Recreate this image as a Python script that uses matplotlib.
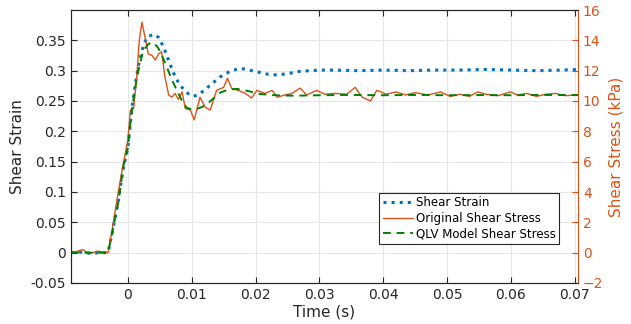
import matplotlib.pyplot as plt
import numpy as np

# shear strain (left axis)
t_strain = [-0.0089, -0.0075, -0.006, -0.0045, -0.0031, -0.0025, -0.0015, -0.0007, 0.0, 0.0006,
            0.0012, 0.0017, 0.0024, 0.003, 0.004, 0.0048, 0.0056, 0.0066, 0.0074, 0.0082,
            0.009, 0.0097, 0.0103, 0.011, 0.0119, 0.013, 0.0145, 0.016, 0.0176, 0.019,
            0.0207, 0.022, 0.0233, 0.025, 0.027, 0.0301, 0.032, 0.036, 0.04, 0.044,
            0.048, 0.052, 0.056, 0.06, 0.064, 0.068, 0.0705]
strain = [0.0, 0.001, -0.001, 0.0, 0.0, 0.03, 0.085, 0.140, 0.172, 0.235,
          0.28, 0.31, 0.34, 0.355, 0.36, 0.355, 0.339, 0.311, 0.29, 0.276,
          0.266, 0.26, 0.258, 0.26, 0.267, 0.277, 0.29, 0.299, 0.304, 0.301,
          0.297, 0.294, 0.293, 0.295, 0.299, 0.301, 0.301, 0.300, 0.301, 0.300,
          0.301, 0.301, 0.302, 0.301, 0.300, 0.301, 0.302]

# original shear stress (kPa, right axis)
t_orig = [-0.0089, -0.0082, -0.0075, -0.007, -0.0062, -0.0055, -0.0048, -0.004, -0.0031, -0.0025,
          -0.0015, -0.0007, 0.0, 0.0004, 0.0009, 0.0014, 0.0018, 0.0022, 0.0027, 0.0032,
          0.0038, 0.0043, 0.0048, 0.0053, 0.0058, 0.0064, 0.0069, 0.0074, 0.0079, 0.0085,
          0.009, 0.0098, 0.0104, 0.0109, 0.0113, 0.0121, 0.0129, 0.0139, 0.015, 0.0156,
          0.0163, 0.0173, 0.0184, 0.0194, 0.0202, 0.0215, 0.0226, 0.0234, 0.0246, 0.0257,
          0.027, 0.028, 0.0296, 0.0308, 0.0325, 0.0343, 0.0356, 0.0367, 0.038, 0.039,
          0.0405, 0.042, 0.0435, 0.045, 0.047, 0.049, 0.0505, 0.052, 0.0535, 0.0548,
          0.056, 0.058, 0.0599, 0.061, 0.0625, 0.064, 0.0655, 0.067, 0.0685, 0.0705]
stress_orig = [0.0, 0.05, 0.15, 0.2, -0.05, 0.0, 0.1, 0.05, 0.0, 1.4,
               4.0, 5.9, 7.4, 9.4, 9.5, 11.6, 14.0, 15.2, 14.2, 13.1,
               13.0, 12.7, 13.1, 13.25, 11.6, 10.4, 10.25, 10.5, 10.1, 10.6,
               9.5, 9.4, 8.75, 9.6, 10.25, 9.6, 9.4, 10.7, 10.9, 11.5,
               10.8, 10.7, 10.5, 10.2, 10.7, 10.5, 10.7, 10.25, 10.4, 10.5,
               10.85, 10.4, 10.7, 10.45, 10.5, 10.45, 10.9, 10.25, 10.0, 10.7,
               10.45, 10.6, 10.4, 10.55, 10.4, 10.6, 10.3, 10.45, 10.3, 10.6,
               10.45, 10.35, 10.6, 10.4, 10.5, 10.3, 10.45, 10.5, 10.35, 10.4]

# QLV model shear stress (kPa, right axis)
t_qlv = [-0.0089, -0.006, -0.0031, -0.0025, -0.0015, -0.0007, 0.0, 0.0006, 0.0014, 0.0024,
         0.0032, 0.0038, 0.0046, 0.0051, 0.0061, 0.0069, 0.0077, 0.0085, 0.0092, 0.01,
         0.0108, 0.0116, 0.0124, 0.0135, 0.0145, 0.0158, 0.0171, 0.019, 0.0207, 0.023,
         0.026, 0.03, 0.035, 0.04, 0.045, 0.05, 0.055, 0.06, 0.065, 0.0705]
stress_qlv = [0.0, 0.0, 0.0, 1.2, 3.3, 5.7, 6.9, 9.3, 11.56, 13.3,
              13.75, 13.87, 13.6, 13.24, 12.24, 11.4, 10.68, 10.0, 9.56, 9.44,
              9.48, 9.6, 9.8, 10.2, 10.56, 10.76, 10.8, 10.64, 10.46, 10.38,
              10.35, 10.38, 10.4, 10.38, 10.4, 10.38, 10.39, 10.38, 10.4, 10.39]

blue = '#0072BD'
orange = '#D95319'
green = '#008000'

fig = plt.figure(figsize=(6.31, 3.24), dpi=100)
ax = fig.add_axes([71 / 631, 1 - 283 / 324, 507 / 631, 273 / 324])
ax2 = ax.twinx()

l1, = ax.plot(t_strain, strain, ':', color=blue, lw=2.2, label='Shear Strain')
l2, = ax2.plot(t_orig, stress_orig, '-', color=orange, lw=1.0, label='Original Shear Stress')
l3, = ax2.plot(t_qlv, stress_qlv, '--', color=green, lw=1.4, dashes=(4, 3), label='QLV Model Shear Stress')

ax.set_xlim(-0.0089, 0.0705)
ax.set_ylim(-0.05, 0.4)
ax2.set_ylim(-2, 16)
ax.set_xticks([0, 0.01, 0.02, 0.03, 0.04, 0.05, 0.06, 0.07])
ax.set_xticklabels(['0', '0.01', '0.02', '0.03', '0.04', '0.05', '0.06', '0.07'])
ax.set_yticks([-0.05, 0, 0.05, 0.1, 0.15, 0.2, 0.25, 0.3, 0.35])
ax.set_yticklabels(['-0.05', '0', '0.05', '0.1', '0.15', '0.2', '0.25', '0.3', '0.35'])
ax2.set_yticks(np.arange(-2, 17, 2))

ax.grid(True, color='#e6e6e6', lw=0.8)
ax.set_axisbelow(True)
ax.tick_params(axis='both', direction='in', labelsize=10, colors='#262626', top=True, length=4)
ax2.tick_params(axis='y', direction='in', labelsize=10, colors=orange, length=4)
for s in ['left', 'bottom', 'top']:
    ax.spines[s].set_color('#262626')
    ax2.spines[s].set_color('#262626')
ax2.spines['right'].set_color(orange)
ax.spines['right'].set_visible(False)

ax.set_xlabel('Time (s)', fontsize=11, color='#262626', labelpad=2)
ax.set_ylabel('Shear Strain', fontsize=11, color='#262626', labelpad=4)
ax2.set_ylabel('Shear Stress (kPa)', fontsize=11, color=orange, labelpad=4)

leg = ax2.legend(handles=[l1, l2, l3], loc='upper right', bbox_to_anchor=(0.963, 0.33),
                 fontsize=8.5, fancybox=False, framealpha=1, edgecolor='#262626',
                 handlelength=2.6, handletextpad=0.2, borderpad=0.3, labelspacing=0.2,
                 borderaxespad=0)
leg.get_frame().set_linewidth(0.8)

fig.savefig('out.png', dpi=100)
